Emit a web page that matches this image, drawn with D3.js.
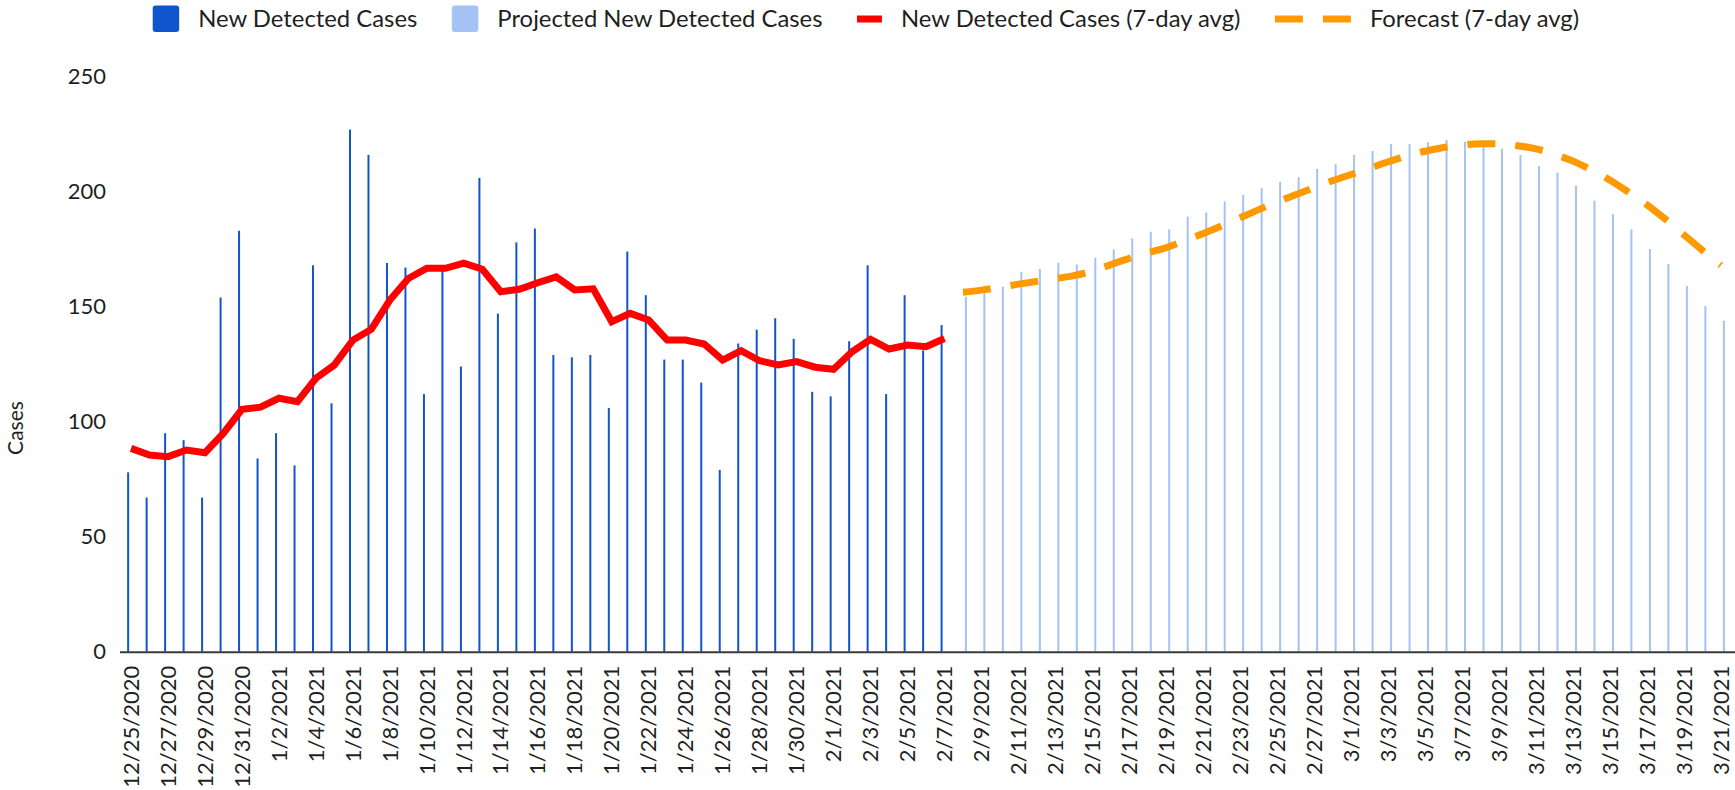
<!DOCTYPE html>
<html>
<head>
<meta charset="utf-8">
<script src="https://cdnjs.cloudflare.com/ajax/libs/d3/7.8.5/d3.min.js"></script>
<style>
  body { margin: 0; background: #fff; }
  text { font-family: Lato, "Open Sans", sans-serif; fill: #1f1f1f; }
</style>
</head>
<body>
<div id="container"></div>
<script>
// Dates on the x axis (one per day)
const dates = [
  "12/25/2020", "12/26/2020", "12/27/2020", "12/28/2020", "12/29/2020", "12/30/2020", "12/31/2020",
  "1/1/2021", "1/2/2021", "1/3/2021", "1/4/2021", "1/5/2021", "1/6/2021", "1/7/2021", "1/8/2021",
  "1/9/2021", "1/10/2021", "1/11/2021", "1/12/2021", "1/13/2021", "1/14/2021", "1/15/2021", "1/16/2021",
  "1/17/2021", "1/18/2021", "1/19/2021", "1/20/2021", "1/21/2021", "1/22/2021", "1/23/2021", "1/24/2021",
  "1/25/2021", "1/26/2021", "1/27/2021", "1/28/2021", "1/29/2021", "1/30/2021", "1/31/2021",
  "2/1/2021", "2/2/2021", "2/3/2021", "2/4/2021", "2/5/2021", "2/6/2021", "2/7/2021", "2/8/2021",
  "2/9/2021", "2/10/2021", "2/11/2021", "2/12/2021", "2/13/2021", "2/14/2021", "2/15/2021", "2/16/2021",
  "2/17/2021", "2/18/2021", "2/19/2021", "2/20/2021", "2/21/2021", "2/22/2021", "2/23/2021", "2/24/2021",
  "2/25/2021", "2/26/2021", "2/27/2021", "2/28/2021",
  "3/1/2021", "3/2/2021", "3/3/2021", "3/4/2021", "3/5/2021", "3/6/2021", "3/7/2021", "3/8/2021",
  "3/9/2021", "3/10/2021", "3/11/2021", "3/12/2021", "3/13/2021", "3/14/2021", "3/15/2021", "3/16/2021",
  "3/17/2021", "3/18/2021", "3/19/2021", "3/20/2021", "3/21/2021"
];

// New detected cases, 12/25/2020 - 2/7/2021
const newCases = [
  78, 67, 95, 92, 67, 154, 183, 84, 95, 81, 168, 108, 227, 216, 169,
  167, 112, 166, 124, 206, 147, 178, 184, 129, 128, 129, 106, 174, 155, 127,
  127, 117, 79, 134, 140, 145, 136, 113, 111, 135, 168, 112, 155, 131, 142
];

// 7-day average of new detected cases, 12/25/2020 - 2/7/2021
const avg7 = [
  88.4, 85.5, 84.8, 87.7, 86.5, 95, 105.4, 106.3, 110.2, 108.7, 118.9, 124.7, 135.5, 140.2, 152.9,
  162.3, 166.7, 166.7, 168.9, 166.3, 156.5, 157.6, 160.4, 163, 157.3, 157.8, 143.5, 147.1, 144.2, 135.5,
  135.5, 133.8, 126.8, 130.9, 126.5, 124.7, 126.1, 123.7, 122.8, 130.4, 135.8, 131.6, 133.3, 132.6, 136.2
];

// Projected new detected cases, 2/8/2021 - 3/21/2021
const projected = [
  154.3, 155.8, 158.7, 165.2, 166.4, 169.1, 168.4, 171.3, 174.9, 179.7, 182.6, 183.6, 189.1, 191,
  195.8, 198.6, 201.5, 204.3, 206.3, 209.9, 212, 216, 217.7, 220.7, 220.7, 221.5, 222.5, 221.7,
  221, 218.7, 216, 211.2, 208.3, 202.6, 196.1, 190.3, 183.6, 175.1, 168.6, 159, 150.3, 143.9
];

// Forecast (7-day avg), 2/8/2021 - 3/21/2021
const forecast = [
  156.3, 157.2, 158.5, 159.8, 161, 162.2, 163.5, 165.5, 168.3, 171, 173.4, 175.7, 178.8, 181.8,
  185.2, 188.7, 192.2, 195.5, 198.7, 201.8, 204.8, 207.5, 210.2, 213, 215.5, 217.6, 219.2, 220.3,
  220.8, 220.8, 220, 218.6, 216.2, 213.3, 209.4, 205, 199.8, 194.3, 188, 181.2, 174.5, 168
];

const yTicks = [0, 50, 100, 150, 200, 250];
const seriesNames = [
  "New Detected Cases",
  "Projected New Detected Cases",
  "New Detected Cases (7-day avg)",
  "Forecast (7-day avg)"
];
const colors = ["#1155cc", "#a4c2f4", "#ff0000", "#ff9900"];

const width = 1735;
const height = 790;

const svg = d3
  .select("#container")
  .append("svg")
  .attr("width", width)
  .attr("height", height);

// Scales
const x0 = d3.scaleBand().domain(dates).range([121.8, 1730.2]);
const bw = x0.bandwidth();
const x1 = d3
  .scaleBand()
  .domain(["cases", "projected"])
  .range([bw / 2 - 5.8, bw / 2 + 5.8]);
const y = d3.scaleLinear().domain([0, 250]).range([651.7, 76.7]);

const nActual = newCases.length;

// Bars - actual
svg
  .append("g")
  .selectAll("rect")
  .data(newCases)
  .enter()
  .append("rect")
  .attr("x", (d, i) => x0(dates[i]) + x1("cases") + x1.bandwidth() / 2 - 1)
  .attr("y", (d) => y(d))
  .attr("width", 2)
  .attr("height", (d) => y(0) - y(d))
  .attr("fill", colors[0]);

// Bars - projected
svg
  .append("g")
  .selectAll("rect")
  .data(projected)
  .enter()
  .append("rect")
  .attr("x", (d, i) => x0(dates[i + nActual]) + x1("projected") + x1.bandwidth() / 2 - 1)
  .attr("y", (d) => y(d))
  .attr("width", 2)
  .attr("height", (d) => y(0) - y(d))
  .attr("fill", colors[1]);

// x axis line
svg
  .append("line")
  .attr("x1", 120)
  .attr("x2", width)
  .attr("y1", y(0) + 0.5)
  .attr("y2", y(0) + 0.5)
  .attr("stroke", "#3a3a3a")
  .attr("stroke-width", 2);

// 7-day avg line
const line = d3
  .line()
  .x((d) => x0(d.date) + bw / 2)
  .y((d) => y(d.v));

svg
  .append("path")
  .datum(avg7.map((v, i) => ({ date: dates[i], v: v })))
  .attr("d", line)
  .attr("fill", "none")
  .attr("stroke", colors[2])
  .attr("stroke-width", 7);

// forecast line
svg
  .append("path")
  .datum(forecast.map((v, i) => ({ date: dates[i + nActual], v: v })))
  .attr("d", line.curve(d3.curveMonotoneX))
  .attr("fill", "none")
  .attr("stroke", colors[3])
  .attr("stroke-width", 7)
  .attr("stroke-dasharray", "28,20");

// y axis
const yAxis = svg
  .append("g")
  .attr("transform", "translate(120,0)")
  .call(d3.axisLeft(y).tickValues(yTicks).tickSize(0).tickPadding(14));
yAxis.select(".domain").remove();
yAxis.selectAll("text").style("font-size", "22px").style("font-family", null).attr("fill", "#1f1f1f");

// x axis labels (every other day)
const xAxis = svg
  .append("g")
  .attr("transform", "translate(0," + y(0) + ")")
  .call(
    d3
      .axisBottom(x0)
      .tickValues(dates.filter((d, i) => i % 2 === 0))
      .tickSize(0)
  );
xAxis.select(".domain").remove();
xAxis
  .selectAll("text")
  .attr("transform", "rotate(-90)")
  .attr("x", -14)
  .attr("y", 0)
  .attr("dy", "0.35em")
  .style("text-anchor", "end")
  .style("font-size", "22px")
  .style("font-family", null)
  .attr("fill", "#1f1f1f");

// y axis title
svg
  .append("text")
  .attr("transform", "translate(23,428) rotate(-90)")
  .attr("text-anchor", "middle")
  .style("font-size", "21px")
  .text("Cases");

// Legend
const legend = svg.append("g").attr("class", "legend");
let lx = 152.7;
seriesNames.forEach((name, i) => {
  const g = legend.append("g");
  let symW;
  if (i < 2) {
    symW = 26.5;
    g.append("rect")
      .attr("x", lx)
      .attr("y", 5.5)
      .attr("width", symW)
      .attr("height", 26.5)
      .attr("rx", 3)
      .attr("fill", colors[i]);
  } else if (i === 2) {
    symW = 25;
    g.append("line")
      .attr("x1", lx)
      .attr("x2", lx + symW)
      .attr("y1", 19)
      .attr("y2", 19)
      .attr("stroke", colors[i])
      .attr("stroke-width", 7);
  } else {
    symW = 76;
    g.append("line")
      .attr("x1", lx)
      .attr("x2", lx + symW)
      .attr("y1", 19)
      .attr("y2", 19)
      .attr("stroke", colors[i])
      .attr("stroke-width", 7)
      .attr("stroke-dasharray", "28,20");
  }
  const t = g
    .append("text")
    .attr("x", lx + symW + 19)
    .attr("y", 19)
    .attr("dy", "0.35em")
    .style("font-size", "23.85px")
    .text(name);
  lx = lx + symW + 19 + t.node().getComputedTextLength() + 34.5;
});
</script>
</body>
</html>
